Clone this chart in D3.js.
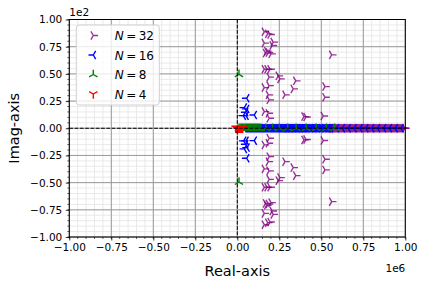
<!DOCTYPE html>
<html>
<head>
<meta charset="utf-8">
<script src="https://cdn.jsdelivr.net/npm/d3@7"></script>
<style>
  body { margin: 0; background: #fff; }
  svg { font-family: "DejaVu Sans", sans-serif; }
</style>
</head>
<body>
<svg id="chart" width="425" height="283"></svg>
<script>
// tick labels (x in 1e6, y in 1e2)
var xTicks = [-1.00, -0.75, -0.50, -0.25, 0.00, 0.25, 0.50, 0.75, 1.00];
var yTicks = [-1.00, -0.75, -0.50, -0.25, 0.00, 0.25, 0.50, 0.75, 1.00];

var seriesNames = ["32", "16", "8", "4"];
var seriesColors = ["#800080", "#0000ff", "#008000", "#ff0000"];
var seriesMarkers = ["right", "left", "up", "down"];

// complex poles [real (1e6), imag]
var cplxN32 = [
  [0.161, 88.7], [0.181, 86.8], [0.195, 86.2], [0.161, 78.3], [0.214, 79.2], [0.208, 76.1],
  [0.175, 70.9], [0.185, 69.6], [0.201, 68.4], [0.168, 69.1], [0.562, 67.5],
  [0.161, 54.3], [0.177, 54.3], [0.195, 54.3], [0.190, 47.0], [0.244, 48.2], [0.254, 45.4],
  [0.348, 43.6], [0.161, 37.4], [0.189, 39.2], [0.333, 36.2], [0.522, 38.3],
  [0.185, 30.7], [0.190, 26.1], [0.284, 30.7], [0.522, 28.5],
  [0.161, 15.3], [0.185, 13.8], [0.190, 9.2], [0.397, 10.7], [0.409, 10.4], [0.512, 11.3],
  [0.161, -88.7], [0.181, -86.8], [0.195, -86.2], [0.161, -78.3], [0.214, -79.2], [0.208, -76.1],
  [0.175, -70.9], [0.185, -69.6], [0.201, -68.4], [0.168, -69.1], [0.562, -67.5],
  [0.161, -54.3], [0.177, -54.3], [0.195, -54.3], [0.190, -47.0], [0.244, -48.2], [0.254, -45.4],
  [0.348, -43.6], [0.161, -37.4], [0.189, -39.2], [0.333, -36.2], [0.522, -38.3],
  [0.185, -30.7], [0.190, -26.1], [0.284, -30.7], [0.522, -28.5],
  [0.161, -15.3], [0.185, -13.8], [0.190, -9.2], [0.397, -10.7], [0.409, -10.4], [0.512, -11.3]
];
var cplxN16 = [
  [0.056, 27.6], [0.042, 19.0], [0.056, 17.8], [0.050, 14.7], [0.036, 11.6], [0.052, 11.6], [0.101, 12.2],
  [0.056, -27.6], [0.042, -19.0], [0.058, -17.8], [0.050, -14.7], [0.038, -11.6], [0.052, -11.6], [0.101, -11.4]
];
var cplxN8 = [[0.01, 49.5], [0.01, -49.5]];

// real poles (1e6)
var realN32 = [
  0.30, 0.32, 0.34, 0.36, 0.38, 0.40, 0.42, 0.44, 0.46, 0.48, 0.50, 0.52, 0.54,
  0.555, 0.561, 0.567, 0.573, 0.579, 0.585, 0.591, 0.597, 0.603, 0.609, 0.615, 0.621,
  0.627, 0.633, 0.639, 0.645, 0.651, 0.657, 0.663, 0.669, 0.675, 0.681, 0.687, 0.693,
  0.699, 0.705, 0.711, 0.717, 0.723, 0.729, 0.735, 0.741, 0.747, 0.753, 0.759, 0.765,
  0.771, 0.777, 0.783, 0.789, 0.795, 0.801, 0.807, 0.813, 0.819, 0.825, 0.831, 0.837,
  0.843, 0.849, 0.855, 0.861, 0.867, 0.873, 0.879, 0.885, 0.891, 0.897, 0.903, 0.909,
  0.915, 0.921, 0.927, 0.933, 0.939, 0.945, 0.951, 0.957, 0.963, 0.969, 0.975, 0.981,
  0.987, 0.993, 0.998
];
var realN16 = [
  0.040, 0.046, 0.052, 0.058, 0.064, 0.070, 0.076, 0.082, 0.088, 0.094, 0.100, 0.106,
  0.112, 0.118, 0.124, 0.130, 0.136, 0.142, 0.148, 0.154, 0.160, 0.166, 0.172, 0.178,
  0.184, 0.190, 0.196, 0.202, 0.208, 0.214, 0.220, 0.226, 0.232, 0.238, 0.244, 0.250,
  0.256, 0.262, 0.268, 0.274, 0.280, 0.286, 0.292, 0.298, 0.304, 0.310, 0.316, 0.322,
  0.328, 0.334, 0.340, 0.346, 0.352, 0.358, 0.364, 0.370, 0.376, 0.382, 0.388, 0.394,
  0.400, 0.407, 0.414, 0.421, 0.428, 0.435, 0.442, 0.449, 0.456, 0.463, 0.470, 0.478,
  0.486, 0.494, 0.502, 0.510, 0.518, 0.527, 0.536, 0.545, 0.555,
  0.59, 0.625, 0.66, 0.695, 0.73, 0.765, 0.80, 0.835, 0.87, 0.905, 0.94, 0.975
];
var realN8 = [
  0.010, 0.017, 0.024, 0.031, 0.038, 0.045, 0.052, 0.059, 0.066, 0.073, 0.080, 0.087,
  0.094, 0.101, 0.108, 0.115, 0.122, 0.130, 0.140,
  0.17, 0.21, 0.25, 0.30, 0.35, 0.41, 0.47, 0.53, 0.58
];
var realN4 = [-0.010, -0.004, 0.002, 0.008, 0.014, 0.020, 0.026, 0.032];

var allPoles = [
  cplxN32.concat(realN32.map(function(r) { return [r, 0]; })),
  cplxN16.concat(realN16.map(function(r) { return [r, 0]; })),
  cplxN8.concat(realN8.map(function(r) { return [r, 0]; })),
  realN4.map(function(r) { return [r, 0]; })
];

var svg = d3.select("#chart");
var margin = { top: 19.5, right: 19.7, bottom: 46, left: 69.3 };
var width = 425 - margin.left - margin.right,
    height = 283 - margin.top - margin.bottom;

var g = svg.append("g")
  .attr("transform", "translate(" + margin.left + "," + margin.top + ")");

var x = d3.scaleLinear().domain([-1, 1]).range([0, width]);
var y = d3.scaleLinear().domain([-100, 100]).range([height, 0]);

// minor grid
var xMinor = d3.range(-20, 21).map(function(i) { return i * 0.05; });
var yMinor = d3.range(-20, 21).map(function(i) { return i * 5; });

g.append("g").selectAll("line").data(xMinor).enter().append("line")
  .attr("x1", function(d) { return x(d); }).attr("x2", function(d) { return x(d); })
  .attr("y1", 0).attr("y2", height)
  .attr("stroke", "#e4e4e4").attr("stroke-width", 0.8);
g.append("g").selectAll("line").data(yMinor).enter().append("line")
  .attr("y1", function(d) { return y(d); }).attr("y2", function(d) { return y(d); })
  .attr("x1", 0).attr("x2", width)
  .attr("stroke", "#e4e4e4").attr("stroke-width", 0.8);

// major grid
g.append("g").selectAll("line").data(xTicks).enter().append("line")
  .attr("x1", function(d) { return x(d); }).attr("x2", function(d) { return x(d); })
  .attr("y1", 0).attr("y2", height)
  .attr("stroke", "#999").attr("stroke-width", 1);
g.append("g").selectAll("line").data(yTicks).enter().append("line")
  .attr("y1", function(d) { return y(d * 100); }).attr("y2", function(d) { return y(d * 100); })
  .attr("x1", 0).attr("x2", width)
  .attr("stroke", "#999").attr("stroke-width", 1);

// tri markers
function triPath(dir, s) {
  var a = 0.866 * s, b = 0.5 * s, arms;
  if (dir === "down") arms = [[0, s], [-a, -b], [a, -b]];
  else if (dir === "up") arms = [[0, -s], [-a, b], [a, b]];
  else if (dir === "left") arms = [[-s, 0], [b, -a], [b, a]];
  else arms = [[s, 0], [-b, -a], [-b, a]];
  return arms.map(function(p) { return "M0,0L" + p[0] + "," + p[1]; }).join("");
}

allPoles.forEach(function(pts, i) {
  g.append("g").selectAll("path").data(pts).enter().append("path")
    .attr("transform", function(d) { return "translate(" + x(d[0]) + "," + y(d[1]) + ")"; })
    .attr("d", triPath(seriesMarkers[i], 4.8))
    .attr("fill", "none")
    .attr("stroke", seriesColors[i])
    .attr("stroke-opacity", i === 0 ? 0.8 : 1)
    .attr("stroke-width", 1.4);
});

// dashed zero lines
g.append("line").attr("x1", 0).attr("x2", width).attr("y1", y(0)).attr("y2", y(0))
  .attr("stroke", "#000").attr("stroke-width", 1).attr("stroke-dasharray", "3.7,1.6");
g.append("line").attr("x1", x(0)).attr("x2", x(0)).attr("y1", 0).attr("y2", height)
  .attr("stroke", "#000").attr("stroke-width", 1).attr("stroke-dasharray", "3.7,1.6");

// axes
var xAxis = g.append("g").attr("transform", "translate(0," + height + ")")
  .call(d3.axisBottom(x).tickValues(xTicks).tickSize(3.5).tickPadding(3.5)
    .tickFormat(function(d) { return d3.format(".2f")(d).replace("-", "\u2212"); }));
var yAxis = g.append("g")
  .call(d3.axisLeft(y).tickValues(yTicks.map(function(d) { return d * 100; })).tickSize(3.5).tickPadding(3.5)
    .tickFormat(function(d) { return d3.format(".2f")(d / 100).replace("-", "\u2212"); }));
[xAxis, yAxis].forEach(function(ax) {
  ax.select(".domain").remove();
  ax.selectAll("text").attr("font-size", "10.5px").attr("fill", "#000")
    .attr("font-family", "DejaVu Sans, sans-serif");
  ax.selectAll("line").attr("stroke", "#000").attr("stroke-width", 0.8);
});
// minor ticks
g.append("g").selectAll("line").data(xMinor).enter().append("line")
  .attr("x1", function(d) { return x(d); }).attr("x2", function(d) { return x(d); })
  .attr("y1", height).attr("y2", height + 2)
  .attr("stroke", "#000").attr("stroke-width", 0.6);
g.append("g").selectAll("line").data(yMinor).enter().append("line")
  .attr("y1", function(d) { return y(d); }).attr("y2", function(d) { return y(d); })
  .attr("x1", 0).attr("x2", -2)
  .attr("stroke", "#000").attr("stroke-width", 0.6);

// frame
g.append("rect").attr("width", width).attr("height", height)
  .attr("fill", "none").attr("stroke", "#000").attr("stroke-width", 1);

// offset texts
g.append("text").attr("x", 0).attr("y", -4).attr("font-size", "10.5px").text("1e2");
g.append("text").attr("x", width).attr("y", height + 35).attr("text-anchor", "end")
  .attr("font-size", "10.5px").text("1e6");

// axis titles
svg.append("text").attr("x", margin.left + width / 2).attr("y", 276)
  .attr("text-anchor", "middle").attr("font-size", "14.5px").text("Real-axis");
svg.append("text").attr("transform", "translate(19," + (margin.top + height / 2) + ") rotate(-90)")
  .attr("text-anchor", "middle").attr("font-size", "14.5px").text("Imag-axis");

// legend
var legend = g.append("g").attr("transform", "translate(7,5.5)");
legend.append("rect").attr("width", 83).attr("height", 80).attr("rx", 3)
  .attr("fill", "#fff").attr("fill-opacity", 0.8)
  .attr("stroke", "#d0d0d0").attr("stroke-width", 1);
seriesNames.forEach(function(name, i) {
  var row = legend.append("g").attr("transform", "translate(0," + (10.5 + i * 19.5) + ")");
  row.append("path").attr("transform", "translate(17,0)")
    .attr("d", triPath(seriesMarkers[i], 4.8))
    .attr("fill", "none").attr("stroke", seriesColors[i])
    .attr("stroke-opacity", i === 0 ? 0.8 : 1).attr("stroke-width", 1.4);
  var t = row.append("text").attr("x", 38.5).attr("y", 4.5).attr("font-size", "12px");
  t.append("tspan").attr("font-style", "italic").text("N");
  t.append("tspan").text("\u2009=\u2009" + name);
});
</script>
</body>
</html>
